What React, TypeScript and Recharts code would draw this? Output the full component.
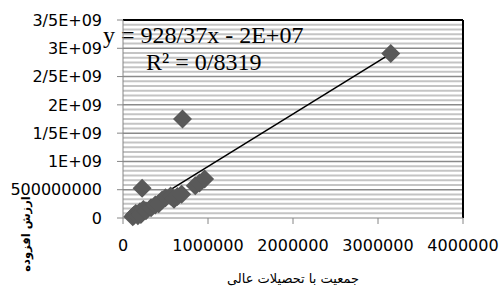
import React from "react";
import {
  ScatterChart,
  Scatter,
  XAxis,
  YAxis,
  ReferenceLine,
  Label,
} from "recharts";

// population with higher education vs. value added
const points = [
  { x: 115000, y: 20000000 },
  { x: 130000, y: 50000000 },
  { x: 150000, y: 80000000 },
  { x: 175000, y: 40000000 },
  { x: 200000, y: 110000000 },
  { x: 210000, y: 60000000 },
  { x: 240000, y: 150000000 },
  { x: 270000, y: 130000000 },
  { x: 225000, y: 525000000 },
  { x: 330000, y: 180000000 },
  { x: 380000, y: 230000000 },
  { x: 420000, y: 250000000 },
  { x: 460000, y: 320000000 },
  { x: 500000, y: 360000000 },
  { x: 560000, y: 390000000 },
  { x: 600000, y: 330000000 },
  { x: 640000, y: 380000000 },
  { x: 690000, y: 420000000 },
  { x: 700000, y: 1750000000 },
  { x: 850000, y: 570000000 },
  { x: 900000, y: 620000000 },
  { x: 960000, y: 690000000 },
  { x: 3150000, y: 2910000000 },
];

// trend line end points as drawn
const trend = [
  { x: 117000, y: 89000000 },
  { x: 3150000, y: 2905000000 },
];

const xTicks = [0, 1000000, 2000000, 3000000, 4000000];
const yTicks = [0, 500000000, 1000000000, 1500000000, 2000000000, 2500000000, 3000000000, 3500000000];
const yLabels = ["0", "500000000", "1E+09", "1/5E+09", "2E+09", "2/5E+09", "3E+09", "3/5E+09"];

const equation = "y = 928/37x - 2E+07";
const rSquared = "R² = 0/8319";
const xTitle = "جمعیت با تحصیلات عالی";
const yTitle = "ارزش افزوده";

// pattern-fill stripes
const stripes: number[] = [];
for (let i = 1; i < 42; i++) if (i % 6 !== 0) stripes.push((i * 500000000) / 6);

const Diamond = (props: any) => {
  const { cx, cy } = props;
  const r = 9.5;
  return (
    <polygon
      points={`${cx},${cy - r} ${cx + r},${cy} ${cx},${cy + r} ${cx - r},${cy}`}
      fill="#595959"
    />
  );
};

const tickFont = { fontFamily: "DejaVu Sans", fontSize: 16, fill: "#000" };

const TrendText = () => (
  <g fontFamily="Liberation Serif" fontSize={24} fill="#000">
    <text x={103} y={43}>{equation}</text>
    <text x={146} y={70}>{rSquared}</text>
  </g>
);

export default function App() {
  return (
    <div style={{ position: "absolute", left: 0, top: 0, background: "#fff" }}>
      <ScatterChart width={500} height={290} margin={{ top: 20, right: 37, bottom: 0, left: 0 }}>
        {stripes.map((v) => (
          <ReferenceLine key={"s" + v} y={v} stroke="#c4c4c4" strokeWidth={2} />
        ))}
        {yTicks.slice(1, -1).map((v) => (
          <ReferenceLine key={"m" + v} y={v} stroke="#8a8a8a" strokeWidth={1.5} />
        ))}
        <XAxis
          type="number"
          dataKey="x"
          domain={[0, 4000000]}
          ticks={xTicks}
          height={72}
          stroke="#868686"
          tickSize={6}
          tickMargin={16}
          tick={tickFont}
        >
          <Label
            content={() => (
              <text x={293} y={283} textAnchor="middle" fontFamily="DejaVu Sans" fontSize={13} fill="#000">
                {xTitle}
              </text>
            )}
          />
        </XAxis>
        <YAxis
          type="number"
          dataKey="y"
          domain={[0, 3500000000]}
          ticks={yTicks}
          width={123}
          stroke="#868686"
          tickSize={6}
          tickMargin={15}
          tick={tickFont}
          tickFormatter={(v: number) => yLabels[yTicks.indexOf(v)]}
        >
          <Label
            content={() => (
              <text
                x={26}
                y={234}
                transform="rotate(-90 26 234)"
                textAnchor="middle"
                dominantBaseline="central"
                fontFamily="DejaVu Sans"
                fontWeight="bold"
                fontSize={11.5}
                fill="#000"
              >
                {yTitle}
              </text>
            )}
          />
        </YAxis>
        <ReferenceLine x={4000000} stroke="#000" strokeWidth={2} />
        <Scatter data={points} shape={<Diamond />} isAnimationActive={false} />
        <ReferenceLine segment={trend} stroke="#000" strokeWidth={1.5} />
        <ReferenceLine y={3500000000} stroke="#000" strokeWidth={2}>
          <Label content={() => <TrendText />} />
        </ReferenceLine>
      </ScatterChart>
    </div>
  );
}
